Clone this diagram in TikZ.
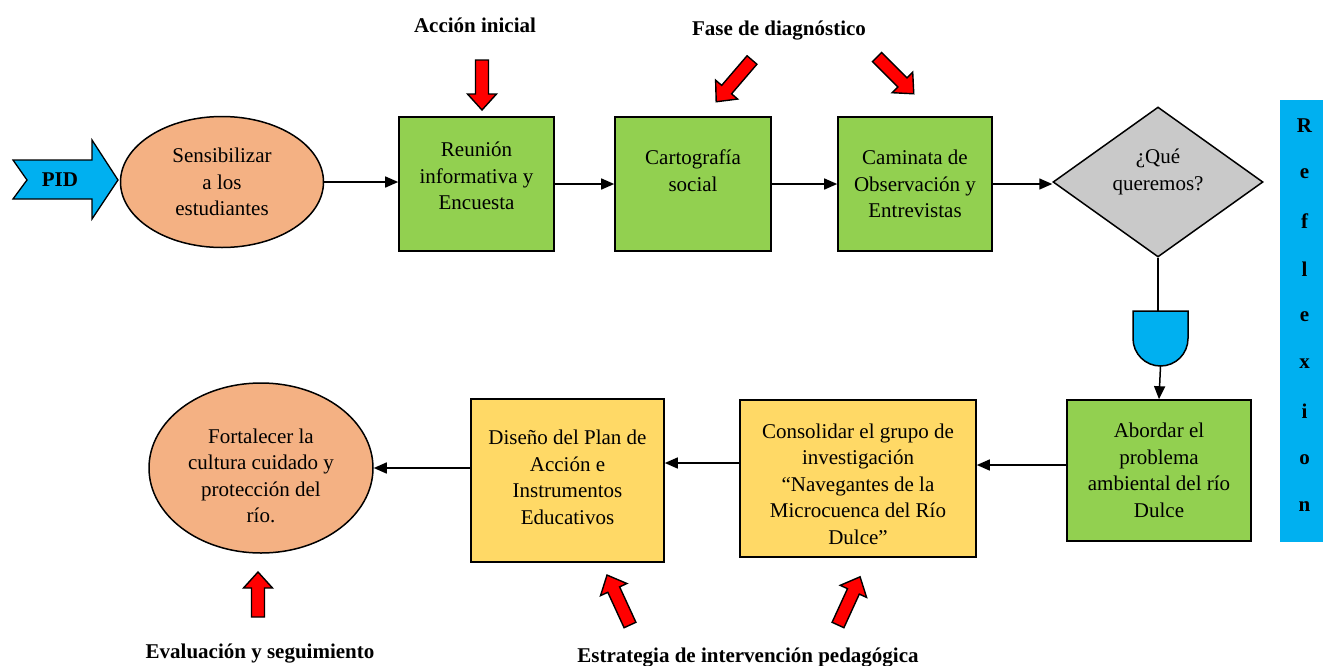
\documentclass[tikz,border=0pt]{standalone}
\usepackage{fontspec}
\setmainfont{Liberation Serif}
\usetikzlibrary{arrows.meta,shapes.geometric}
\definecolor{gboxc}{RGB}{146,208,80}
\definecolor{ellc}{RGB}{244,177,131}
\definecolor{yboxc}{RGB}{255,217,102}
\definecolor{bluec}{RGB}{0,176,240}
\definecolor{grayc}{RGB}{201,201,201}
\definecolor{redc}{RGB}{255,0,0}
\newcommand{\rarrow}[3]{\draw[redarr,shift={(#1)},rotate=#2] (0,-6.5) -- ({#3-16},-6.5) -- ({#3-16},-14.5) -- (#3,0) -- ({#3-16},14.5) -- ({#3-16},6.5) -- (0,6.5) -- cycle;}
\begin{document}
\begin{tikzpicture}[x=1pt,y=-1pt,
  font=\rmfamily\fontsize{21}{26.5}\selectfont,
  every node/.style={inner sep=0pt, align=center},
  gbox/.style={draw=black, line width=1.6pt, fill=gboxc},
  ybox/.style={draw=black, line width=1.6pt, fill=yboxc},
  ell/.style={ellipse, draw=black, line width=1.5pt, fill=ellc},
  conn/.style={draw=black, line width=1.5pt, -{Triangle[length=13pt,width=11pt]}},
  plain/.style={draw=black, line width=1.5pt},
  redarr/.style={draw=black, line width=1.4pt, fill=redc, line join=miter},
  lbl/.style={font=\rmfamily\fontsize{21}{26}\selectfont\bfseries}]
\useasboundingbox (0,0) rectangle (1323,665);
% PID arrow
\draw[fill=bluec, draw=black, line width=1.3pt, line join=miter]
  (13,160) -- (92,160) -- (92,140) -- (118,180) -- (92,219) -- (92,199) -- (13,199) -- (27,180) -- cycle;
\node[lbl] (pid) at (60,180) {PID};
% top row
\node[ell, minimum width=203, minimum height=131] (s) at (222,182) {Sensibilizar\\a los\\estudiantes};
\node[gbox, minimum width=155, minimum height=134] (r) at (476.5,184) {Reunión\\informativa y\\Encuesta\\[-10pt]\mbox{}};
\node[gbox, minimum width=156, minimum height=134] (k) at (693,184) {Cartografía\\social\\\mbox{}};
\node[gbox, minimum width=154, minimum height=134] (w) at (915,184) {Caminata de\\Observación y\\Entrevistas};
\node[diamond, draw=black, line width=1.5pt, fill=grayc, minimum width=210, minimum height=150] (q) at (1158,182) {};
\node (qt) at (1158,172) {¿Qué\\queremos?};
% delay shape
\draw[fill=bluec, draw=black, line width=1.5pt]
  (1133,311) -- (1188,311) -- (1188,338.5)
  .. controls (1188,353.7) and (1175.7,366) .. (1160.5,366)
  .. controls (1145.3,366) and (1133,353.7) .. (1133,338.5) -- cycle;
\coordinate (dtop) at (1158,311);
\coordinate (dbot) at (1160.5,366);
% bottom row
\node[gbox, minimum width=184, minimum height=141] (a) at (1159,470.5) {Abordar el\\problema\\ambiental del río\\Dulce};
\node[ybox, minimum width=236, minimum height=157] (c) at (858,478.5) {\strut\\[-19pt]Consolidar el grupo de\\investigación\\“Navegantes de la\\Microcuenca del Río\\Dulce”};
\node[ybox, minimum width=193, minimum height=163] (d) at (567.5,480.5) {Diseño del Plan de\\Acción e\\Instrumentos\\Educativos\\[-20pt]\mbox{}};
\node[ell, minimum width=224, minimum height=170] (f) at (261,468) {\strut\\[-15pt]Fortalecer la\\cultura cuidado y\\protección del\\río.};
% reflexion bar
\fill[bluec] (1280,100) rectangle (1323,542);
\foreach \l [count=\i] in {R,e,f,l,e,x,i,o,n}
  \node[lbl] (rf\i) at (1304.5,{126+(\i-1)*47.6}) {\l};
% connectors
\draw[conn] (s.east) -- (s.east -| r.west);
\draw[conn] (r.east) -- (r.east -| k.west);
\draw[conn] (k.east) -- (k.east -| w.west);
\draw[conn] (w.east) -- (w.east -| q.west);
\draw[plain] (q.south) -- (dtop);
\draw[conn] (dbot) -- (a.north);
\coordinate (ya) at (0,465);
\coordinate (yc) at (0,463);
\draw[conn] (a.west |- ya) -- (c.east |- ya);
\draw[conn] (c.west |- yc) -- (d.east |- yc);
\draw[conn] (d.west |- f.east) -- (f.east);
% labels
\node[lbl] (l1) at (475,25) {Acción inicial};
\node[lbl] (l2) at (779,31) {Fase de diagnóstico};
\node[lbl] (l3) at (260,654) {Evaluación y seguimiento};
\node[lbl] (l4) at (748,658) {Estrategia de intervención pedagógica};
% red arrows
\rarrow{482,60}{-90}{50}
\rarrow{752,60}{-130.6}{55}
\rarrow{877,57}{-45}{52}
\rarrow{258,617}{90}{45}
\rarrow{630,625}{114.7}{55}
\rarrow{838,625}{65.4}{53}
\end{tikzpicture}
\end{document}
